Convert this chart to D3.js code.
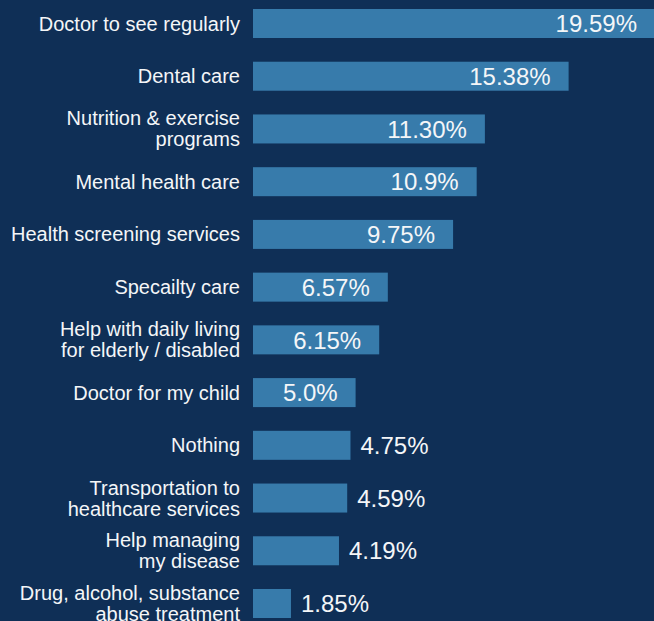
<!DOCTYPE html>
<html>
<head>
<meta charset="utf-8">
<script src="https://cdn.jsdelivr.net/npm/d3@7"></script>
<style>
  html, body { margin: 0; padding: 0; background: #0f2f56; overflow: hidden; }
  svg { display: block; }
  text { font-family: "Liberation Sans", Arial, sans-serif; fill: #f4f6f8; }
</style>
</head>
<body>
<script>
// categories (line breaks with \n) and their values in percent
var categories = [
  "Doctor to see regularly",
  "Dental care",
  "Nutrition & exercise\nprograms",
  "Mental health care",
  "Health screening services",
  "Specailty care",
  "Help with daily living\nfor elderly / disabled",
  "Doctor for my child",
  "Nothing",
  "Transportation to\nhealthcare services",
  "Help managing\nmy disease",
  "Drug, alcohol, substance\nabuse treatment"
];
var values = [19.59, 15.38, 11.30, 10.9, 9.75, 6.57, 6.15, 5.0, 4.75, 4.59, 4.19, 1.85];
var valueLabels = ["19.59%", "15.38%", "11.30%", "10.9%", "9.75%", "6.57%", "6.15%", "5.0%", "4.75%", "4.59%", "4.19%", "1.85%"];

var width = 654, height = 621;

var data = categories.map(function(c, i) {
  return { category: c, value: values[i], label: valueLabels[i] };
});

var svg = d3.select("body").append("svg")
    .attr("width", width)
    .attr("height", height);

// scales
var x = d3.scaleLinear()
    .domain([0, 19.59])
    .range([253, 655]);

var y = d3.scaleBand()
    .domain(categories)
    .range([9, 618])
    .paddingInner(0.45)
    .paddingOuter(0);

// bars
svg.selectAll(".bar")
    .data(data)
  .enter().append("rect")
    .attr("class", "bar")
    .attr("x", x(0))
    .attr("y", function(d) { return y(d.category); })
    .attr("width", function(d) { return x(d.value) - x(0); })
    .attr("height", y.bandwidth())
    .style("fill", "#377bab");

// category labels, right aligned
var lineH = 21;
var labels = svg.selectAll(".cat")
    .data(data)
  .enter().append("text")
    .attr("class", "cat")
    .attr("text-anchor", "end")
    .style("font-size", "20px")
    .attr("transform", function(d) {
      return "translate(240," + (y(d.category) + y.bandwidth() / 2) + ")";
    });

labels.each(function(d) {
  var lines = d.category.split("\n");
  var t = d3.select(this);
  lines.forEach(function(l, i) {
    t.append("tspan")
      .attr("x", 0)
      .attr("y", (i - (lines.length - 1) / 2) * lineH)
      .attr("dy", "0.35em")
      .text(l);
  });
});

// value labels: inside the bar when it is wide enough, else just after it
svg.selectAll(".val")
    .data(data)
  .enter().append("text")
    .attr("class", "val")
    .style("font-size", "24px")
    .attr("y", function(d) { return y(d.category) + y.bandwidth() / 2; })
    .attr("dy", "0.36em")
    .attr("x", function(d) { return d.value >= 5 ? x(d.value) - 18 : x(d.value) + 10; })
    .attr("text-anchor", function(d) { return d.value >= 5 ? "end" : "start"; })
    .text(function(d) { return d.label; });
</script>
</body>
</html>
